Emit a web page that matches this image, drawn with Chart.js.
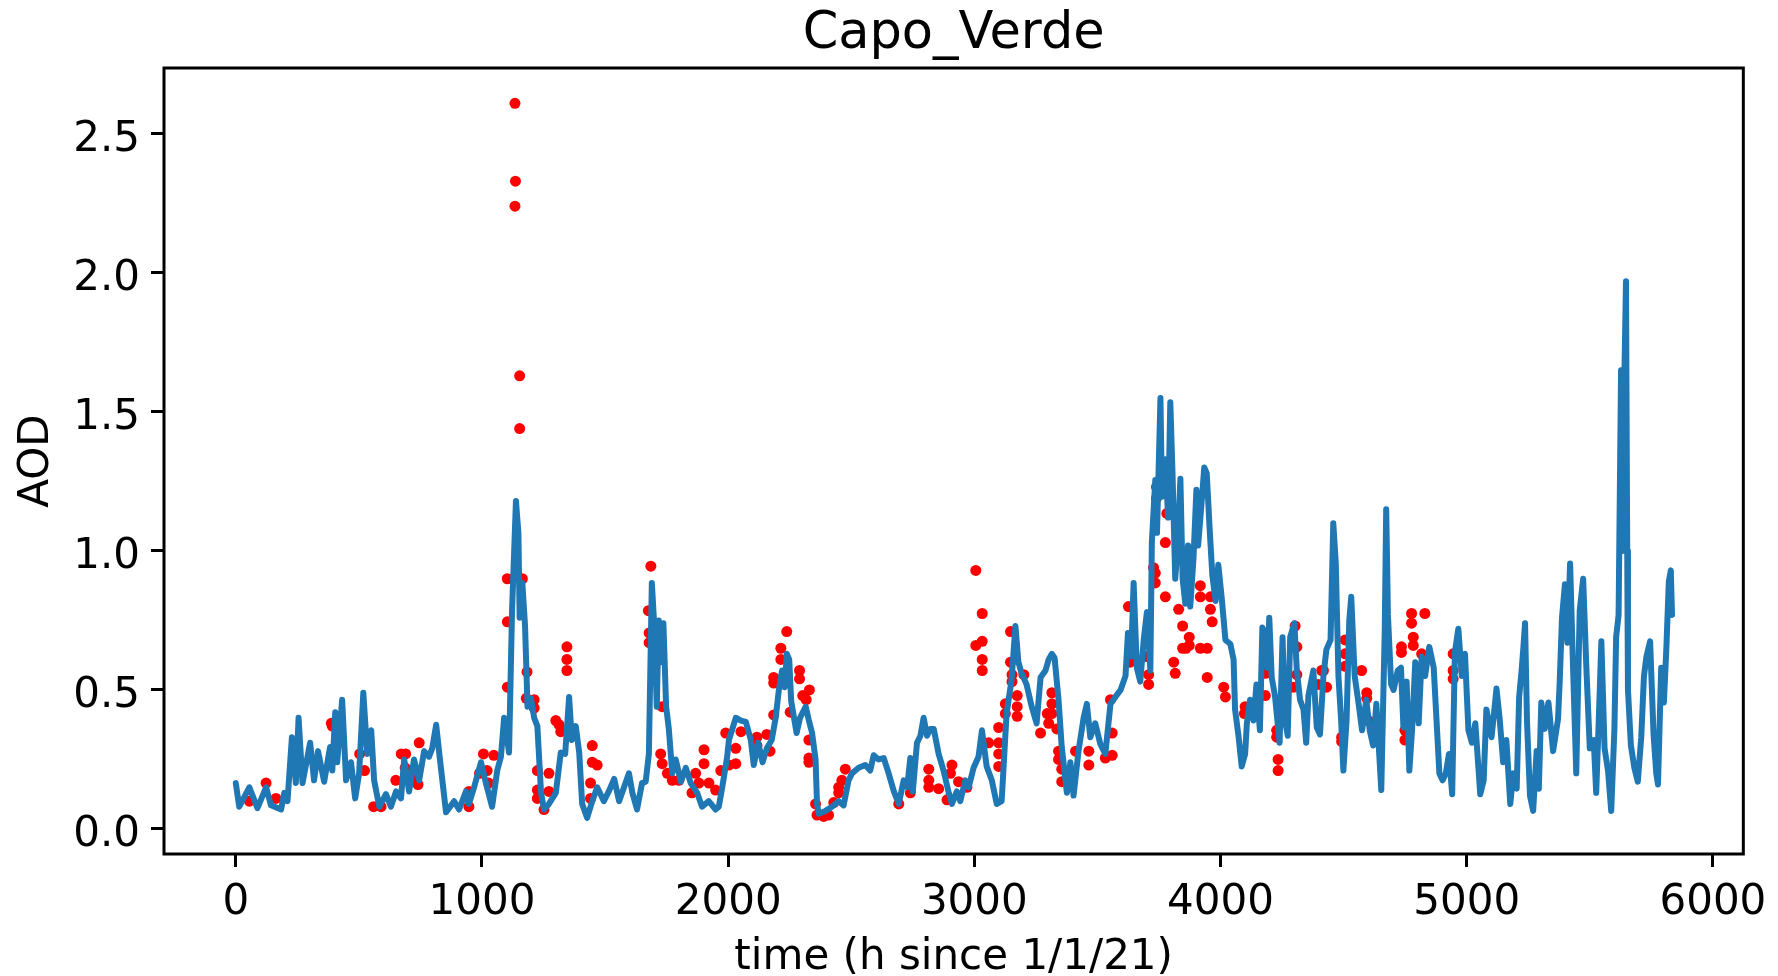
<!DOCTYPE html>
<html>
<head>
<meta charset="utf-8">
<script src="https://cdn.jsdelivr.net/npm/chart.js@4.4.0/dist/chart.umd.min.js"></script>
<style>
  body { margin: 0; background: #fff; }
  canvas { display: block; }
</style>
</head>
<body>
<canvas id="aodChart" width="1778" height="976"></canvas>
<script>
// model AOD, hourly
const lineHours = [
    0, 14, 55, 88, 123, 143, 184, 197, 210, 228,
    244, 255, 271, 302, 318, 334, 359, 383, 392, 404,
    412, 432, 448, 468, 485, 501, 518, 534, 550, 562,
    583, 610, 630, 651, 671, 684, 704, 724, 745, 765,
    785, 798, 814, 828, 854, 887, 907, 935, 947, 968,
    996, 1016, 1041, 1062, 1077, 1090, 1110, 1122, 1138, 1148,
    1153, 1164, 1175, 1185, 1199, 1212, 1225, 1240, 1252, 1272,
    1300, 1320, 1338, 1354, 1365, 1381, 1395, 1407, 1427, 1448,
    1468, 1495, 1515, 1537, 1557, 1577, 1597, 1611, 1630, 1650,
    1665, 1678, 1690, 1700, 1710, 1718, 1727, 1737, 1748, 1759,
    1773, 1787, 1808, 1828, 1848, 1874, 1894, 1921, 1949, 1962,
    1976, 1996, 2003, 2031, 2052, 2072, 2092, 2104, 2122, 2140,
    2157, 2177, 2193, 2206, 2219, 2230, 2238, 2248, 2256, 2278,
    2292, 2315, 2328, 2341, 2355, 2361, 2368, 2395, 2422, 2449,
    2469, 2489, 2503, 2530, 2557, 2577, 2591, 2611, 2632, 2652,
    2673, 2693, 2713, 2727, 2740, 2750, 2767, 2781, 2794, 2808,
    2821, 2835, 2855, 2875, 2896, 2909, 2929, 2943, 2963, 2977,
    2997, 3017, 3031, 3050, 3071, 3091, 3111, 3131, 3151, 3167,
    3179, 3192, 3212, 3233, 3253, 3269, 3289, 3302, 3315, 3326,
    3342, 3355, 3376, 3390, 3403, 3423, 3444, 3457, 3471, 3491,
    3512, 3532, 3553, 3573, 3594, 3614, 3624, 3637, 3647, 3660,
    3674, 3688, 3701, 3715, 3721, 3735, 3742, 3756, 3762, 3776,
    3787, 3796, 3805, 3816, 3826, 3837, 3846, 3857, 3868, 3877,
    3890, 3902, 3909, 3920, 3934, 3944, 3957, 3967, 3980, 3991,
    4005, 4020, 4040, 4053, 4059, 4073, 4086, 4100, 4107, 4120,
    4134, 4146, 4160, 4170, 4180, 4190, 4198, 4208, 4221, 4240,
    4252, 4262, 4273, 4283, 4300, 4310, 4323, 4337, 4348, 4357,
    4377, 4391, 4404, 4418, 4430, 4447, 4458, 4468, 4479, 4490,
    4499, 4512, 4523, 4531, 4545, 4561, 4575, 4592, 4606, 4620,
    4633, 4653, 4667, 4673, 4680, 4693, 4703, 4720, 4733, 4743,
    4756, 4767, 4778, 4791, 4805, 4817, 4831, 4848, 4866, 4889,
    4902, 4915, 4928, 4941, 4952, 4966, 4980, 4993, 5007, 5021,
    5035, 5055, 5069, 5080, 5101, 5121, 5134, 5148, 5161, 5177,
    5189, 5203, 5213, 5223, 5230, 5237, 5245, 5257, 5270, 5284,
    5293, 5303, 5317, 5332, 5351, 5371, 5378, 5387, 5399, 5409,
    5420, 5432, 5445, 5459, 5473, 5486, 5500, 5516, 5526, 5536,
    5547, 5560, 5574, 5587, 5600, 5607, 5617, 5627, 5633, 5640,
    5647, 5652, 5655, 5667, 5681, 5695, 5709, 5720, 5730, 5745,
    5759, 5770, 5777, 5790, 5801, 5811, 5821, 5829, 5834
];
const lineAod = [
    .165, .08, .15, .075, .15, .085, .07, .13, .10, .33,
    .165, .40, .165, .31, .175, .28, .17, .295, .21, .42,
    .24, .465, .175, .24, .11, .20, .49, .27, .355, .175,
    .08, .125, .08, .135, .11, .25, .135, .25, .175, .28,
    .26, .29, .375, .26, .06, .10, .07, .135, .09, .15,
    .24, .165, .08, .21, .26, .40, .275, .78, 1.18, 1.065,
    .76, .885, .73, .44, .47, .40, .37, .13, .07, .09,
    .13, .275, .27, .475, .32, .37, .275, .09, .04, .10,
    .15, .10, .135, .18, .10, .15, .20, .13, .07, .165,
    .17, .27, .885, .73, .44, .75, .60, .74, .44, .36,
    .20, .25, .17, .22, .165, .13, .08, .10, .07, .08,
    .15, .26, .32, .40, .39, .385, .32, .23, .31, .24,
    .29, .32, .40, .50, .57, .51, .63, .61, .46, .345,
    .40, .44, .39, .345, .25, .09, .055, .065, .08, .10,
    .085, .175, .20, .22, .23, .21, .265, .25, .255, .20,
    .135, .09, .175, .15, .255, .135, .31, .335, .40, .335,
    .36, .36, .27, .21, .13, .09, .135, .10, .175, .15,
    .22, .26, .355, .225, .175, .09, .10, .415, .535, .73,
    .60, .56, .52, .44, .38, .545, .57, .61, .63, .615,
    .465, .295, .13, .24, .12, .28, .40, .45, .33, .38,
    .305, .27, .45, .475, .50, .55, .705, .62, .885, .58,
    .53, .68, .78, .57, 1.03, 1.255, 1.065, 1.55, 1.195, 1.33,
    1.12, 1.535, 1.28, .90, 1.02, 1.26, .90, .81, 1.02, .80,
    .97, 1.22, 1.02, 1.14, 1.30, 1.28, 1.06, .91, .82, .95,
    .83, .68, .665, .61, .43, .335, .225, .27, .38, .465,
    .39, .52, .355, .725, .70, .58, .76, .545, .48, .31,
    .69, .39, .335, .69, .74, .57, .465, .43, .31, .48,
    .57, .365, .34, .55, .645, .68, 1.10, .96, .55, .39,
    .21, .39, .75, .835, .55, .45, .355, .465, .355, .30,
    .45, .14, .71, 1.15, .77, .52, .50, .57, .58, .365,
    .53, .21, .355, .60, .38, .62, .55, .655, .58, .20,
    .175, .20, .27, .125, .635, .72, .55, .63, .355, .31,
    .38, .125, .175, .43, .33, .505, .395, .24, .32, .09,
    .20, .145, .475, .57, .65, .74, .385, .12, .065, .28,
    .145, .455, .36, .455, .28, .395, .535, .76, .88, .67,
    .955, .58, .20, .785, .90, .58, .29, .32, .13, .38,
    .675, .29, .21, .065, .36, .69, .77, 1.65, 1.00, 1.60,
    1.97, 1.00, .50, .30, .22, .17, .33, .55, .62, .675,
    .34, .20, .16, .58, .455, .65, .89, .93, .77
];

// observed AOD (red dots)
const obsHours = [
    55, 123, 163, 388, 392, 503, 523, 560, 590, 650,
    672, 690, 688, 724, 745, 740, 947, 947, 990, 1006,
    1021, 1027, 1048, 1103, 1103, 1103, 1134, 1136, 1134, 1153,
    1153, 1164, 1183, 1180, 1212, 1212, 1225, 1225, 1225, 1252,
    1272, 1272, 1300, 1313, 1320, 1345, 1345, 1345, 1448, 1448,
    1468, 1441, 1441, 1686, 1676, 1679, 1679, 1732, 1726, 1732,
    1753, 1773, 1800, 1853, 1868, 1881, 1902, 1902, 1922, 1949,
    1970, 1990, 2003, 2031, 2031, 2052, 2117, 2117, 2157, 2170,
    2185, 2185, 2185, 2214, 2214, 2238, 2290, 2290, 2303, 2317,
    2330, 2252, 2328, 2328, 2328, 2355, 2361, 2388, 2408, 2429,
    2449, 2462, 2476, 2449, 2693, 2740, 2815, 2815, 2815, 2855,
    2889, 2903, 2909, 2936, 2970, 3006, 3032, 3032, 3006, 3032,
    3032, 3058, 3099, 3099, 3099, 3099, 3126, 3126, 3147, 3147,
    3153, 3153, 3174, 3174, 3174, 3201, 3269, 3296, 3302, 3315,
    3315, 3315, 3335, 3342, 3342, 3355, 3355, 3411, 3465, 3465,
    3532, 3560, 3560, 3553, 3626, 3633, 3701, 3708, 3708, 3728,
    3735, 3735, 3740, 3740, 3782, 3776, 3776, 3830, 3846, 3873,
    3873, 3846, 3860, 3810, 3816, 3918, 3918, 3959, 3959, 3966,
    3918, 3946, 3946, 4013, 4020, 4097, 4100, 4182, 4182, 4228,
    4228, 4234, 4234, 4303, 4310, 4310, 4296, 4397, 4431, 4411,
    4418, 4492, 4492, 4506, 4506, 4506, 4573, 4594, 4594, 4600,
    4735, 4735, 4776, 4776, 4830, 4783, 4783, 4817, 4749, 4749,
    4945, 4945, 4945
];
const obsAod = [
    .10, .165, .11, .38, .37, .27, .21, .08, .08, .175,
    .27, .27, .22, .18, .31, .16, .135, .08, .20, .27,
    .21, .165, .265, .51, .745, .90, 2.61, 2.33, 2.24, 1.63,
    1.44, .90, .565, .47, .465, .435, .21, .14, .11, .07,
    .20, .135, .39, .375, .35, .655, .61, .57, .30, .24,
    .23, .165, .11, .945, .785, .705, .67, .44, .27, .235,
    .20, .175, .175, .13, .20, .165, .285, .235, .165, .14,
    .21, .345, .23, .29, .235, .35, .33, .30, .34, .28,
    .41, .545, .525, .65, .61, .71, .57, .54, .48, .465,
    .50, .42, .32, .255, .24, .09, .05, .045, .05, .095,
    .15, .175, .215, .13, .09, .13, .215, .175, .15, .145,
    .105, .20, .23, .17, .15, .93, .775, .675, .66, .61,
    .57, .31, .365, .31, .27, .225, .45, .415, .71, .60,
    .555, .53, .48, .44, .405, .555, .345, .415, .38, .49,
    .45, .415, .36, .28, .25, .215, .17, .28, .28, .23,
    .255, .345, .265, .465, .80, .60, .62, .555, .52, .94,
    .92, .885, 1.23, 1.19, 1.135, 1.03, .835, .79, .73, .69,
    .66, .65, .65, .60, .56, .875, .835, .835, .79, .745,
    .65, .65, .545, .51, .475, .415, .44, .56, .48, .355,
    .33, .25, .21, .73, .655, .555, .51, .52, .51, .57,
    .57, .33, .315, .68, .63, .585, .57, .49, .47, .39,
    .655, .635, .775, .74, .775, .69, .66, .63, .355, .32,
    .63, .57, .54
];

const xTickValues = [0, 1000, 2000, 3000, 4000, 5000, 6000];
const yTickValues = [0, 0.5, 1.0, 1.5, 2.0, 2.5];

const fontFamily = 'DejaVu Sans';

// black box round the plot area, like the axes spines
const frame = {
    id: 'frame',
    afterDatasetsDraw(chart) {
        const { ctx, chartArea: a } = chart;
        ctx.save();
        ctx.strokeStyle = '#000';
        ctx.lineWidth = 3;
        ctx.strokeRect(a.left, a.top, a.right - a.left, a.bottom - a.top);
        ctx.restore();
    }
};

const tickGrid = {
    drawOnChartArea: false,
    drawTicks: true,
    tickLength: 13,
    tickWidth: 3,
    tickColor: '#000'
};

const options = {
    animation: false,
    responsive: false,
    devicePixelRatio: 1,
    events: [],
    layout: {
        padding: { left: 0, right: 32.5, top: 0, bottom: 0 }
    },
    scales: {
        x: {
            type: 'linear',
            min: -291.6,
            max: 6123.6,
            afterBuildTicks: s => { s.ticks = xTickValues.map(v => ({ value: v })); },
            afterFit: s => { s.height = 122; },
            border: { display: false },
            grid: tickGrid,
            ticks: {
                color: '#000',
                padding: 11,
                maxRotation: 0,
                autoSkip: false,
                font: { family: fontFamily, size: 42 },
                callback: v => String(v)
            },
            title: {
                display: true,
                text: 'time (h since 1/1/21)',
                color: '#000',
                font: { family: fontFamily, size: 42, lineHeight: 0.8 },
                padding: { top: 0, bottom: 1.5 }
            }
        },
        y: {
            type: 'linear',
            min: -0.09,
            max: 2.737,
            afterBuildTicks: s => { s.ticks = yTickValues.map(v => ({ value: v })); },
            afterFit: s => { s.width = 164; },
            border: { display: false },
            grid: tickGrid,
            ticks: {
                color: '#000',
                padding: 11,
                labelOffset: 6,
                autoSkip: false,
                font: { family: fontFamily, size: 42 },
                callback: v => v.toFixed(1)
            },
            title: {
                display: true,
                text: 'AOD',
                color: '#000',
                font: { family: fontFamily, size: 42, lineHeight: 1 },
                padding: { top: 16.5, bottom: 0 }
            }
        }
    },
    plugins: {
        legend: { display: false },
        tooltip: { enabled: false },
        title: {
            display: true,
            fullSize: false,
            text: 'Capo_Verde',
            color: '#000',
            font: { family: fontFamily, size: 51, weight: 'normal', lineHeight: 1 },
            padding: { top: 9, bottom: 8 }
        }
    }
};

const data = {
    datasets: [{
        // model line on top of the dots
        data: lineHours.map((h, i) => ({ x: h, y: lineAod[i] })),
        showLine: true,
        borderColor: '#1f77b4',
        borderWidth: 6,
        borderJoinStyle: 'round',
        borderCapStyle: 'round',
        pointRadius: 0,
        tension: 0,
        order: 0
    }, {
        data: obsHours.map((h, i) => ({ x: h, y: obsAod[i] })),
        showLine: false,
        backgroundColor: '#ff0000',
        borderWidth: 0,
        pointRadius: 5.5,
        order: 1
    }]
};

const ctx = document.getElementById('aodChart');

new Chart(
    ctx, {
        type: 'scatter',
        data,
        options,
        plugins: [frame]
    });
</script>
</body>
</html>
